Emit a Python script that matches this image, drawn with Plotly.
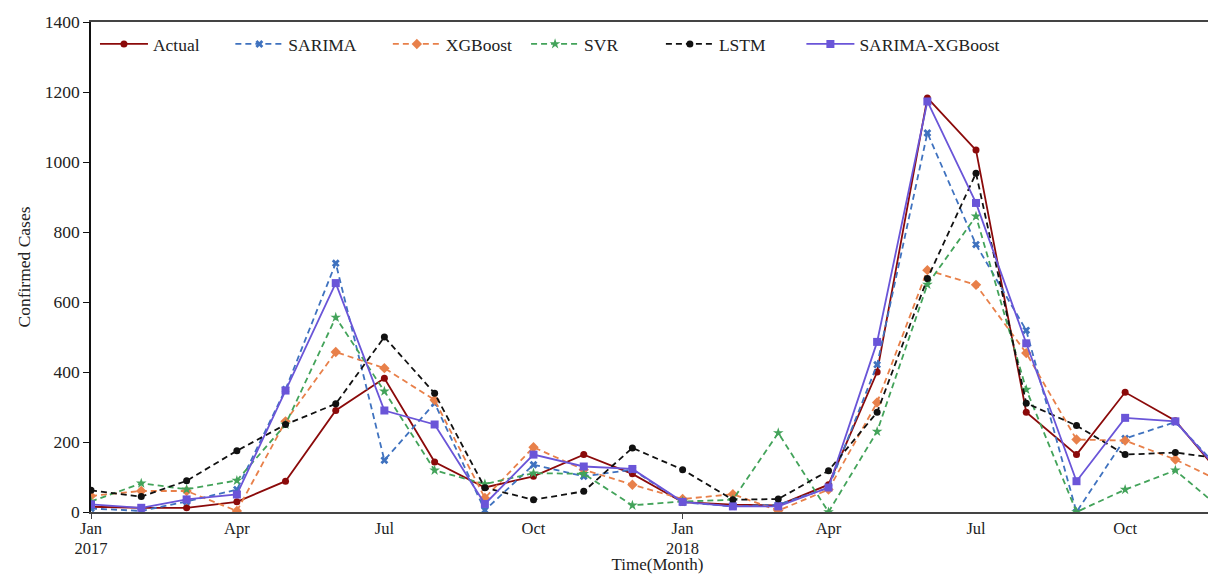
import plotly.graph_objects as go
import pandas as pd

months = pd.date_range("2017-01-01", "2018-12-01", freq="MS")

actual = [15, 12, 12, 29, 88, 290, 382, 143, 70, 102, 164, 109,
          28, 21, 19, 78, 400, 1183, 1034, 285, 164, 342, 261, 95]
sarima = [10, 3, 30, 64, 350, 711, 148, 311, 5, 135, 102, 121,
          28, 16, 21, 69, 421, 1083, 764, 519, 0, 210, 257, 110]
xgboost = [46, 60, 60, 3, 259, 457, 411, 320, 40, 185, 121, 78,
           37, 51, 4, 64, 313, 691, 649, 454, 207, 204, 150, 83]
svr = [30, 82, 65, 90, 250, 556, 345, 119, 80, 111, 109, 19,
       30, 35, 226, 0, 230, 650, 845, 350, 0, 64, 119, 2]
lstm = [62, 44, 89, 175, 250, 309, 500, 339, 69, 35, 59, 183,
        121, 35, 37, 118, 285, 667, 968, 311, 247, 164, 170, 151]
hybrid = [22, 12, 36, 50, 347, 654, 290, 250, 23, 164, 130, 123,
          29, 16, 16, 70, 486, 1173, 883, 482, 88, 269, 259, 102]

series = [
    ("Actual", actual, "#8B0A0A", "solid", "circle", 7),
    ("SARIMA", sarima, "#3F72BF", "6px,4px", "x", 7),
    ("XGBoost", xgboost, "#E8804A", "6px,4px", "diamond", 8),
    ("SVR", svr, "#43A35A", "6px,4px", "star", 8),
    ("LSTM", lstm, "#111111", "6px,4px", "circle", 7),
    ("SARIMA-XGBoost", hybrid, "#6A55D8", "solid", "square", 8),
]

# legend item start positions (fraction of plot width)
legend_x = [0.0035, 0.123, 0.262, 0.384, 0.503, 0.627]

label_dates = pd.date_range("2017-01-01", "2018-10-01", freq="QS")
label_text = [d.strftime("%b") for d in label_dates]
jan_dates = [d for d in label_dates if d.month == 1]
year_text = [d.strftime("%Y") for d in jan_dates]

font = "Liberation Serif"
fig = go.Figure()
legend_layout = {}
for i, (name, vals, color, dash, sym, size) in enumerate(series):
    lname = "legend" if i == 0 else f"legend{i+1}"
    fig.add_trace(go.Scatter(
        x=months, y=vals, name=name, mode="lines+markers",
        line=dict(color=color, width=1.8, dash=dash),
        marker=dict(symbol=sym, size=size, color=color),
        legend=lname,
    ))
    legend_layout[lname] = dict(
        x=legend_x[i], y=0.955, xanchor="left", yanchor="middle",
        bgcolor="rgba(0,0,0,0)", font=dict(family=font, size=17.5, color="#222"),
        itemwidth=48,
    )

fig.update_layout(
    width=1216, height=575,
    template="none",
    margin=dict(l=83, r=0, t=14, b=71),
    paper_bgcolor="white", plot_bgcolor="white",
    font=dict(family=font, size=17.5, color="#222"),
    showlegend=True,
    **legend_layout,
    xaxis=dict(
        type="date", range=[months[0], months[-1]],
        tickmode="array", tickvals=label_dates, ticktext=label_text,
        ticks="", ticklabelstandoff=0, showgrid=False, zeroline=False,
        showline=True, linecolor="#444", linewidth=1.5, mirror=True,
        title=dict(text="Time(Month)", standoff=22, font=dict(size=17)),
        tickfont=dict(size=16.5), automargin=False,
    ),
    xaxis2=dict(
        type="date", overlaying="x", side="bottom", anchor="y",
        range=[months[0], months[-1]], tickmode="array", tickvals=jan_dates,
        ticktext=year_text, ticks="outside", ticklen=6, tickwidth=1.2, tickcolor="#444",
        ticklabelstandoff=15, tickfont=dict(size=16.5),
        showticklabels=True, showgrid=False, zeroline=False, showline=False,
        automargin=False,
    ),
    yaxis=dict(
        range=[0, 1400], tickmode="array", tickvals=list(range(0, 1401, 200)),
        ticks="outside", ticklen=6, tickwidth=1.2, tickcolor="#111",
        showgrid=False, zeroline=False, showline=True, linecolor="#111", linewidth=1.5,
        title=dict(text="Confirmed Cases", standoff=10, font=dict(size=17.5)),
        tickfont=dict(size=17.5), automargin=False,
    ),
)
# invisible trace to activate the year axis
fig.add_trace(go.Scatter(x=[months[0]], y=[None], xaxis="x2", showlegend=False,
                         hoverinfo="skip", mode="markers"))

fig.write_html("out.html")
